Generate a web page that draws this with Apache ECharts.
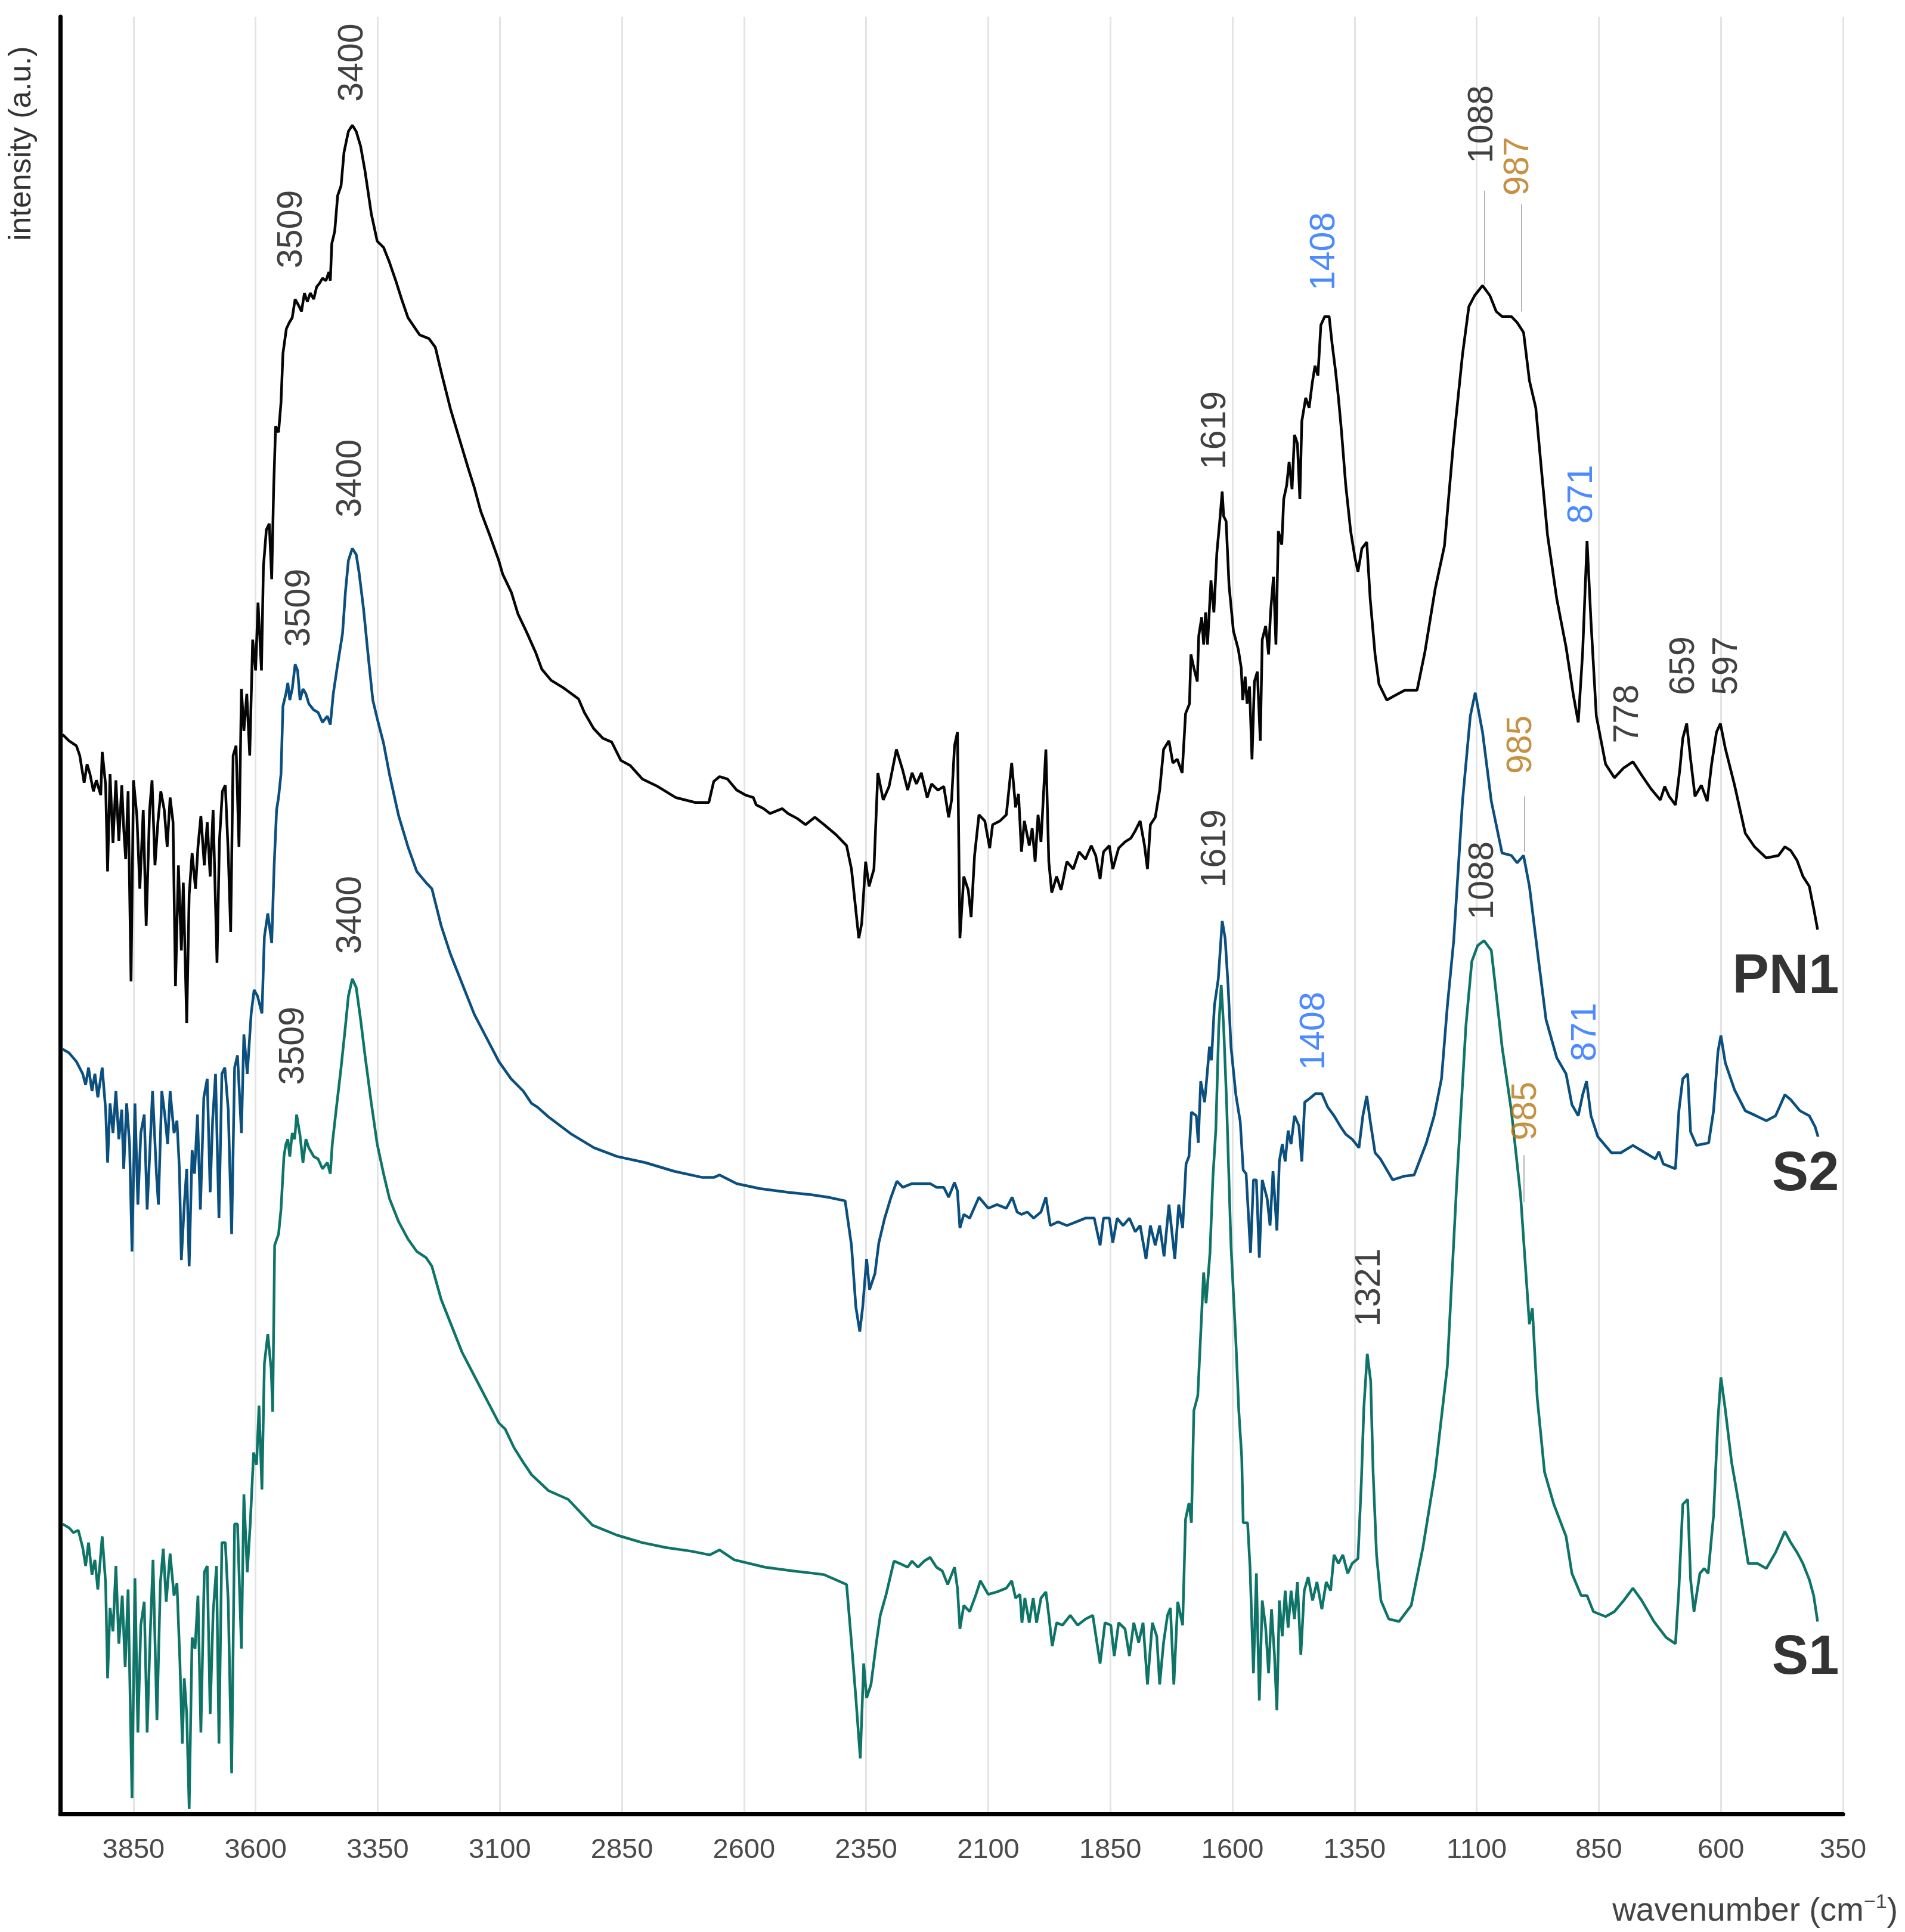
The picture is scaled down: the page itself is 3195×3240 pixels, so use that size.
<!DOCTYPE html>
<html>
<head>
<meta charset="utf-8">
<title>FTIR spectra PN1 / S2 / S1</title>
<script src="https://cdn.jsdelivr.net/npm/echarts@6.0.0/dist/echarts.min.js"></script>
<style>
  html, body { margin: 0; padding: 0; background: #fff; }
  #main { width: 3195px; height: 3240px; }
</style>
</head>
<body>
<div id="main"></div>
<script>
// spectra: [wavenumber (cm-1), intensity (a.u.)]
var pn1 = [
  [3995,875],[3982,870],[3967,866],[3960,858],[3951,836],[3945,851],[3939,843],[3932,829],[3926,838],[3917,826],
  [3914,861],[3907,834],[3903,764],[3898,843],[3892,787],[3886,838],[3880,789],[3874,834],[3870,799],[3866,774],
  [3861,829],[3855,675],[3850,838],[3843,809],[3837,750],[3830,814],[3824,720],[3817,814],[3812,838],[3806,769],
  [3800,804],[3794,829],[3787,814],[3781,784],[3775,824],[3769,804],[3764,671],[3758,769],[3752,700],[3748,755],
  [3741,641],[3736,745],[3730,779],[3723,750],[3718,784],[3712,809],[3705,769],[3699,804],[3693,760],[3687,814],
  [3679,690],[3674,789],[3668,829],[3662,834],[3656,779],[3651,715],[3646,858],[3640,866],[3634,784],[3629,912],
  [3624,878],[3618,908],[3612,858],[3606,952],[3600,927],[3595,982],[3588,927],[3584,1011],[3578,1041],[3572,1046],
  [3567,1001],[3563,1075],[3559,1125],[3553,1120],[3548,1144],[3544,1184],[3537,1204],[3531,1209],[3525,1213],[3519,1228],
  [3512,1223],[3506,1218],[3500,1233],[3494,1226],[3488,1233],[3481,1228],[3475,1238],[3469,1241],[3463,1245],[3456,1243],
  [3450,1250],[3447,1243],[3444,1273],[3438,1283],[3432,1312],[3425,1320],[3419,1347],[3410,1364],[3402,1369],[3394,1364],
  [3385,1352],[3376,1332],[3363,1297],[3351,1275],[3338,1270],[3326,1258],[3313,1243],[3301,1228],[3288,1213],[3276,1206],
  [3264,1199],[3245,1196],[3232,1189],[3220,1169],[3201,1139],[3183,1115],[3164,1090],[3152,1075],[3139,1056],[3120,1036],
  [3102,1016],[3094,1005],[3076,990],[3063,973],[3045,958],[3026,941],[3014,928],[2995,919],[2970,913],[2939,904],
  [2927,893],[2908,880],[2889,872],[2871,869],[2852,854],[2833,850],[2808,839],[2777,833],[2740,824],[2700,820],
  [2672,820],[2662,837],[2650,841],[2634,839],[2615,830],[2597,826],[2581,824],[2575,818],[2560,815],[2547,811],
  [2522,815],[2510,811],[2491,807],[2474,802],[2455,808],[2436,802],[2412,794],[2390,785],[2380,766],[2365,710],
  [2359,722],[2351,772],[2344,752],[2334,766],[2326,844],[2315,822],[2303,833],[2288,863],[2275,846],[2265,830],
  [2256,844],[2247,835],[2237,844],[2225,824],[2216,835],[2203,830],[2191,833],[2181,808],[2175,822],[2169,866],
  [2163,877],[2158,710],[2150,760],[2141,749],[2135,727],[2128,777],[2119,810],[2107,805],[2097,783],[2091,802],
  [2076,805],[2063,810],[2052,852],[2044,816],[2038,827],[2032,780],[2026,805],[2016,785],[2010,799],[2004,772],
  [1998,810],[1992,788],[1982,863],[1976,772],[1970,747],[1960,760],[1951,749],[1939,772],[1926,766],[1914,780],
  [1901,774],[1889,785],[1880,777],[1871,758],[1864,780],[1852,785],[1845,766],[1833,783],[1820,788],[1808,791],
  [1799,797],[1789,805],[1780,785],[1774,766],[1768,802],[1758,808],[1749,830],[1741,863],[1730,870],[1722,852],
  [1713,855],[1703,844],[1696,892],[1688,900],[1685,940],[1679,929],[1672,918],[1669,955],[1663,970],[1659,948],
  [1655,974],[1651,948],[1644,1000],[1638,974],[1632,1022],[1626,1048],[1621,1072],[1618,1052],[1613,1048],[1607,996],
  [1598,959],[1588,944],[1582,929],[1579,903],[1574,922],[1570,900],[1565,914],[1560,855],[1555,918],[1549,926],
  [1543,870],[1539,952],[1532,963],[1526,940],[1522,974],[1516,1003],[1511,948],[1506,1040],[1499,1029],[1495,1066],
  [1489,1077],[1484,1096],[1478,1074],[1473,1118],[1467,1111],[1462,1066],[1458,1129],[1450,1148],[1443,1140],[1437,1159],
  [1431,1174],[1425,1166],[1419,1207],[1411,1214],[1402,1214],[1396,1192],[1389,1170],[1383,1148],[1377,1122],[1368,1077],
  [1358,1040],[1349,1018],[1343,1007],[1335,1026],[1325,1031],[1318,985],[1308,940],[1300,916],[1284,903],[1266,907],
  [1247,911],[1222,911],[1206,942],[1185,993],[1166,1028],[1147,1114],[1129,1183],[1116,1222],[1104,1231],[1088,1239],
  [1073,1231],[1060,1218],[1048,1214],[1029,1214],[1017,1209],[1004,1201],[992,1162],[979,1140],[967,1088],[955,1037],
  [936,985],[917,946],[902,907],[892,885],[883,942],[874,1032],[866,967],[855,890],[836,851],[818,840],
  [799,848],[780,853],[762,842],[743,831],[724,822],[715,833],[706,825],[693,818],[684,847],[678,872],
  [670,884],[662,855],[653,825],[640,834],[628,821],[619,851],[609,877],[601,884],[591,864],[572,834],
  [550,795],[531,784],[507,775],[482,777],[469,784],[457,781],[444,773],[432,760],[419,752],[410,734],[402,717]
];

var s2 = [
  [3995,620],[3982,617],[3967,610],[3954,600],[3948,591],[3942,605],[3935,586],[3929,600],[3923,581],[3914,605],
  [3907,571],[3903,528],[3898,576],[3892,552],[3886,586],[3880,547],[3874,571],[3870,523],[3864,576],[3858,543],
  [3853,456],[3847,576],[3841,494],[3835,552],[3828,567],[3822,490],[3817,533],[3811,586],[3803,519],[3799,494],
  [3792,586],[3786,567],[3780,543],[3775,586],[3767,552],[3761,562],[3756,523],[3752,449],[3746,494],[3741,523],
  [3736,444],[3730,538],[3725,519],[3719,567],[3713,490],[3706,581],[3699,596],[3693,504],[3688,562],[3682,600],
  [3675,483],[3669,600],[3663,605],[3656,571],[3649,470],[3643,605],[3637,615],[3629,552],[3624,632],[3617,600],
  [3609,649],[3603,668],[3596,663],[3587,649],[3582,711],[3575,730],[3567,706],[3562,769],[3557,814],[3553,824],
  [3548,843],[3544,898],[3538,908],[3534,917],[3530,903],[3525,912],[3519,932],[3514,927],[3509,903],[3503,912],
  [3497,908],[3491,900],[3481,895],[3472,893],[3463,885],[3453,890],[3447,883],[3441,908],[3432,932],[3422,957],
  [3416,991],[3410,1016],[3402,1026],[3394,1021],[3388,1006],[3379,977],[3369,937],[3360,903],[3351,888],[3338,868],
  [3326,843],[3307,809],[3288,784],[3270,764],[3251,755],[3239,750],[3220,720],[3201,697],[3177,673],[3152,648],
  [3127,629],[3102,610],[3077,596],[3052,586],[3035,576],[3023,573],[3000,565],[2953,551],[2907,540],[2860,533],
  [2802,528],[2743,521],[2685,516],[2662,516],[2650,518],[2615,511],[2568,507],[2510,504],[2463,502],[2428,500],
  [2393,497],[2380,461],[2371,411],[2363,391],[2357,411],[2349,450],[2343,425],[2332,438],[2324,463],[2312,483],
  [2299,500],[2287,513],[2275,508],[2256,511],[2237,511],[2219,511],[2206,508],[2191,508],[2181,500],[2169,512],
  [2163,505],[2158,475],[2150,486],[2138,483],[2119,500],[2100,491],[2082,494],[2063,491],[2051,500],[2041,488],
  [2032,486],[2020,488],[2007,483],[1992,488],[1982,500],[1973,477],[1957,480],[1939,477],[1920,480],[1901,483],
  [1883,483],[1871,461],[1864,483],[1852,483],[1845,463],[1836,483],[1824,477],[1811,483],[1799,472],[1789,477],
  [1777,450],[1768,477],[1758,461],[1749,477],[1740,452],[1730,494],[1724,472],[1718,450],[1710,494],[1702,475],
  [1695,527],[1689,533],[1684,569],[1674,566],[1670,544],[1665,594],[1657,577],[1652,599],[1647,622],[1643,611],
  [1637,655],[1629,677],[1621,724],[1615,710],[1609,672],[1603,622],[1593,583],[1584,561],[1578,522],[1572,519],
  [1563,455],[1557,514],[1551,514],[1545,451],[1539,514],[1529,499],[1523,477],[1517,521],[1509,473],[1504,529],
  [1498,543],[1492,529],[1486,554],[1480,543],[1473,566],[1464,558],[1458,529],[1452,577],[1442,580],[1430,584],
  [1417,584],[1405,573],[1392,566],[1380,558],[1368,551],[1355,547],[1341,540],[1333,566],[1325,582],[1318,562],
  [1308,536],[1297,531],[1272,514],[1249,517],[1228,518],[1203,544],[1187,566],[1172,596],[1160,655],[1147,708],
  [1129,821],[1113,890],[1103,909],[1088,877],[1070,821],[1048,779],[1029,777],[1017,771],[1004,777],[992,752],
  [973,691],[958,644],[936,613],[917,600],[905,575],[892,566],[883,583],[875,594],[866,566],[852,549],
  [824,536],[805,536],[780,542],[755,536],[734,531],[727,537],[718,527],[693,523],[686,570],[678,596],
  [668,600],[662,553],[650,542],[625,544],[615,570],[606,618],[600,631],[591,609],[572,587],[550,570],
  [528,566],[507,562],[488,566],[469,583],[457,579],[438,570],[419,566],[407,557],[401,549]
];

var s1 = [
  [3995,235],[3982,232],[3973,228],[3963,230],[3954,216],[3948,201],[3942,220],[3935,194],[3929,206],[3923,182],
  [3914,225],[3907,187],[3903,110],[3898,167],[3892,148],[3886,201],[3880,138],[3873,177],[3867,119],[3861,182],
  [3853,13],[3847,191],[3841,66],[3835,153],[3828,172],[3822,66],[3816,143],[3810,206],[3802,76],[3795,187],
  [3789,215],[3783,172],[3775,211],[3767,177],[3761,187],[3755,124],[3750,57],[3746,110],[3741,81],[3736,4],
  [3730,143],[3724,134],[3718,177],[3712,66],[3705,196],[3699,201],[3693,81],[3687,163],[3680,201],[3675,57],
  [3669,220],[3662,220],[3656,172],[3649,33],[3643,235],[3637,235],[3629,134],[3624,259],[3617,196],[3611,235],
  [3604,293],[3598,283],[3593,331],[3587,263],[3582,365],[3575,389],[3568,360],[3565,326],[3561,461],[3553,470],
  [3548,490],[3542,533],[3538,543],[3534,547],[3530,533],[3525,552],[3520,547],[3516,567],[3509,550],[3503,528],
  [3497,547],[3491,540],[3481,533],[3472,531],[3463,523],[3453,528],[3447,519],[3443,543],[3435,571],[3425,605],
  [3416,639],[3410,663],[3402,677],[3394,670],[3385,644],[3376,615],[3363,576],[3351,543],[3338,519],[3326,499],
  [3307,480],[3288,466],[3270,456],[3251,451],[3239,444],[3220,417],[3201,398],[3177,374],[3152,355],[3127,336],
  [3102,317],[3089,312],[3071,297],[3052,285],[3035,275],[3000,262],[2960,255],[2910,234],[2860,226],[2809,220],
  [2760,216],[2708,213],[2670,210],[2650,214],[2620,206],[2557,200],[2500,197],[2456,195],[2436,194],[2390,186],
  [2380,139],[2371,94],[2362,45],[2355,122],[2349,94],[2340,105],[2329,139],[2321,161],[2309,178],[2293,205],
  [2281,203],[2265,200],[2256,205],[2244,200],[2231,205],[2219,208],[2206,200],[2194,197],[2183,186],[2169,200],
  [2163,183],[2158,150],[2150,169],[2138,164],[2125,178],[2116,189],[2100,178],[2082,180],[2063,183],[2052,189],
  [2044,175],[2035,178],[2031,155],[2025,175],[2016,155],[2008,175],[2001,155],[1992,175],[1982,180],[1976,161],
  [1969,136],[1960,155],[1948,153],[1932,161],[1917,153],[1901,158],[1886,161],[1871,122],[1861,155],[1849,153],
  [1842,128],[1833,155],[1820,150],[1811,128],[1802,155],[1792,139],[1783,155],[1774,105],[1764,155],[1755,144],
  [1749,105],[1741,139],[1733,161],[1727,167],[1720,105],[1712,172],[1702,153],[1696,239],[1689,252],[1684,236],
  [1679,327],[1671,339],[1665,389],[1659,439],[1654,414],[1646,455],[1640,516],[1634,555],[1628,638],[1623,672],
  [1618,638],[1612,577],[1603,461],[1593,383],[1587,327],[1581,289],[1578,236],[1569,236],[1564,200],[1557,114],
  [1551,195],[1545,92],[1539,173],[1532,151],[1526,114],[1520,166],[1514,129],[1509,84],[1504,173],[1498,144],
  [1492,181],[1486,151],[1480,181],[1473,158],[1467,188],[1460,129],[1453,181],[1445,192],[1436,173],[1427,188],
  [1417,166],[1408,188],[1399,181],[1392,210],[1383,203],[1374,210],[1364,195],[1355,203],[1343,207],[1336,270],
  [1331,329],[1324,373],[1317,351],[1312,277],[1305,210],[1296,173],[1280,158],[1259,156],[1234,169],[1210,216],
  [1185,277],[1160,363],[1141,510],[1122,639],[1110,691],[1098,704],[1085,708],[1070,700],[1060,665],[1048,622],
  [1029,570],[1010,501],[1001,449],[992,397],[986,410],[976,337],[961,277],[942,251],[917,225],[905,195],
  [886,177],[874,177],[861,164],[836,160],[818,164],[799,173],[780,183],[762,173],[737,156],[712,143],
  [693,138],[686,182],[678,251],[668,255],[662,190],[655,164],[643,195],[634,199],[626,195],[615,242],
  [606,320],[600,354],[591,328],[578,285],[563,251],[544,203],[525,203],[507,199],[488,212],[469,229],
  [457,220],[444,212],[432,203],[419,190],[410,177],[402,156]
];

// peak annotations: [wavenumber, intensity at foot of label, text, colour key]
var pn1Peaks = [
  [3401,1388,'3400','k'],[3525,1253,'3509','k'],[1635,1090,'1619','k'],[1411,1235,'1408','b'],
  [1088,1338,'1088','k'],[1014,1312,'987','o'],[884,1046,'871','b'],[790,868,'778','k'],
  [675,907,'659','k'],[587,907,'597','k']
];
var s2Peaks = [
  [3404,1051,'3400','k'],[3509,946,'3509','k'],[1635,751,'1619','k'],[1432,603,'1408','b'],
  [1008,843,'985','o'],[877,610,'871','b']
];
var s1Peaks = [
  [3404,697,'3400','k'],[3522,591,'3509','k'],[1318,395,'1321','k'],[1086,725,'1088','k'],
  [998,546,'985','o']
];
// thin leader lines: [wavenumber, from, to]
var leaders = [[1084,1316,1240],[1008,1305,1218],[1002,825,780],[1004,534,496]];
// sample names at the right end: [wavenumber, intensity, text]
var sampleNames = [[358,678,'PN1'],[358,518,'S2'],[358,126,'S1']];

var xTicks = { min: 350, max: 4000, step: 250 };

var FONT = "'Liberation Sans', Arial, Helvetica, sans-serif";
var labelColors = { k: '#111111', b: '#1f6dff', o: '#b87514' };

var chart = echarts.init(document.getElementById('main'), null, {
  width: 3195,
  height: 3240,
  devicePixelRatio: 1
});

function peakSeries(list) {
  return {
    type: 'scatter',
    symbolSize: 0.1,
    silent: true,
    z: 5,
    itemStyle: { color: 'rgba(0,0,0,0)' },
    label: {
      show: true,
      formatter: '{b}',
      rotate: 90,
      position: [0, 0],
      align: 'left',
      verticalAlign: 'middle',
      fontSize: 59,
      fontFamily: FONT
    },
    data: list.map(function (p) {
      return { value: [p[0], p[1]], name: p[2], label: { color: labelColors[p[3]] } };
    })
  };
}

var option = {
  backgroundColor: '#ffffff',
  animation: false,
  grid: {
    left: 101,
    right: 104,
    top: 28,
    bottom: 198,
    containLabel: false
  },
  xAxis: {
    type: 'value',
    inverse: true,
    min: xTicks.min,
    max: xTicks.max,
    interval: xTicks.step,
    axisLine: { show: true, onZero: false, lineStyle: { color: '#000', width: 7 } },
    axisTick: { show: false },
    axisLabel: {
      fontSize: 47,
      color: '#4a4a4a',
      margin: 38,
      fontFamily: FONT,
      showMaxLabel: false,
      formatter: function (v) { return String(v); }
    },
    splitLine: { show: true, lineStyle: { color: '#e4e4e4', width: 3 } }
  },
  yAxis: {
    type: 'value',
    min: 0,
    max: 1457,
    axisLine: { show: true, onZero: false, lineStyle: { color: '#000', width: 7 } },
    axisTick: { show: false },
    axisLabel: { show: false },
    splitLine: { show: false }
  },
  graphic: [
    {
      type: 'text',
      x: 37,
      y: 404,
      rotation: Math.PI / 2,
      style: {
        text: 'intensity (a.u.)',
        font: '52px ' + FONT,
        fill: '#333',
        textAlign: 'left',
        textVerticalAlign: 'middle'
      }
    },
    {
      type: 'text',
      x: 3183,
      y: 3206,
      style: {
        text: 'wavenumber (cm{sup|\u22121})',
        font: '55px ' + FONT,
        fill: '#444',
        textAlign: 'right',
        textVerticalAlign: 'middle',
        rich: {
          sup: { fontSize: 34, fontFamily: FONT, fill: '#444', verticalAlign: 'top', padding: [0, 0, 30, 0] }
        }
      }
    }
  ],
  series: [
    {
      name: 'PN1', type: 'line', data: pn1, showSymbol: false, symbol: 'none', z: 3,
      lineStyle: { color: '#050505', width: 4.5 }
    },
    {
      name: 'S2', type: 'line', data: s2, showSymbol: false, symbol: 'none', z: 3,
      lineStyle: { color: '#0b4f7e', width: 4.5 }
    },
    {
      name: 'S1', type: 'line', data: s1, showSymbol: false, symbol: 'none', z: 3,
      lineStyle: { color: '#0f7468', width: 4.5 }
    },
    peakSeries(pn1Peaks),
    peakSeries(s2Peaks),
    Object.assign(peakSeries(s1Peaks), {
      markLine: {
        silent: true,
        symbol: ['none', 'none'],
        label: { show: false },
        lineStyle: { color: '#b5b5b5', width: 2, type: 'solid' },
        data: leaders.map(function (l) {
          return [{ coord: [l[0], l[1]] }, { coord: [l[0], l[2]] }];
        })
      }
    }),
    {
      type: 'scatter',
      symbolSize: 0.1,
      silent: true,
      z: 5,
      itemStyle: { color: 'rgba(0,0,0,0)' },
      label: {
        show: true,
        formatter: '{b}',
        position: [0, 0],
        align: 'right',
        verticalAlign: 'middle',
        fontSize: 92,
        fontWeight: 'bold',
        color: '#000',
        fontFamily: FONT
      },
      data: sampleNames.map(function (n) {
        return { value: [n[0], n[1]], name: n[2] };
      })
    }
  ]
};

chart.setOption(option);
</script>
</body>
</html>
